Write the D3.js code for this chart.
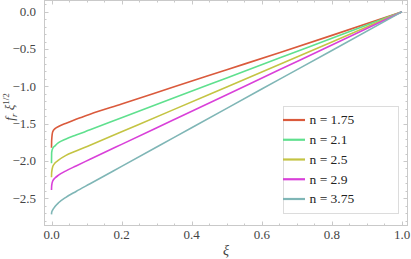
<!DOCTYPE html>
<html><head><meta charset="utf-8">
<script src="https://cdn.jsdelivr.net/npm/d3@7"></script>
<style>body{margin:0;background:#fff}svg{display:block}text{font-family:"Liberation Serif","Times New Roman",Times,serif}</style>
</head><body>
<svg id="c" width="411" height="259"></svg>
<script>
const xi = [0, 0.0005, 0.0035, 0.01, 0.02, 0.04, 0.07, 0.11, 0.2, 0.35, 0.5, 0.65, 0.8, 1.0];
const seriesNames = ["n = 1.75", "n = 2.1", "n = 2.5", "n = 2.9", "n = 3.75"];
const n175 = [-1.822, -1.72, -1.607, -1.566, -1.537, -1.497, -1.440, -1.372, -1.236, -1.006, -0.777, -0.548, -0.316, 0];
const n21  = [-2.031, -1.885, -1.83, -1.797, -1.755, -1.708, -1.652, -1.582, -1.42, -1.152, -0.886, -0.620, -0.355, 0];
const n25  = [-2.218, -2.15, -2.075, -2.028, -1.988, -1.928, -1.866, -1.788, -1.608, -1.308, -1.007, -0.706, -0.404, 0];
const n29  = [-2.389, -2.33, -2.268, -2.228, -2.19, -2.135, -2.066, -1.977, -1.777, -1.444, -1.111, -0.778, -0.445, 0];
const n375 = [-2.715, -2.688, -2.655, -2.61, -2.56, -2.49, -2.408, -2.305, -2.072, -1.683, -1.294, -0.906, -0.518, 0];
const seriesValues = [n175, n21, n25, n29, n375];
const colors = ["#da5a3c", "#5fe08e", "#c4c443", "#d940d9", "#7fb6b6"];
const xTicks = [0, 0.2, 0.4, 0.6, 0.8, 1.0];
const xTickLabels = ["0.0", "0.2", "0.4", "0.6", "0.8", "1.0"];
const yTicks = [0, -0.5, -1.0, -1.5, -2.0, -2.5];
const yTickLabels = ["0.0", "\u22120.5", "\u22121.0", "\u22121.5", "\u22122.0", "\u22122.5"];

const svg = d3.select("#c");
const L = 44, R = 408, T = 0, B = 226;
const x = d3.scaleLinear().domain([-0.0214, 1.0171]).range([L, R]);
const y = d3.scaleLinear().domain([-2.871, 0.158]).range([B, T]);
const frameCol = "#c9c9c9";

const xMinor = d3.range(0, 1.0001, 0.05);
const yMinor = d3.range(-2.8, 0.1001, 0.1);

const g = svg.append("g");
xMinor.forEach(v => {
  const major = xTicks.some(t => Math.abs(t - v) < 1e-6);
  const len = major ? 4.5 : 2.5;
  const px = Math.round(x(v)) + 0.5;
  g.append("line").attr("x1", px).attr("x2", px).attr("y1", B).attr("y2", B - len).attr("stroke", frameCol);
  g.append("line").attr("x1", px).attr("x2", px).attr("y1", T).attr("y2", T + len).attr("stroke", frameCol);
});
yMinor.forEach(v => {
  const major = yTicks.some(t => Math.abs(t - v) < 1e-6);
  const len = major ? 4.5 : 2.5;
  const py = Math.round(y(v)) + 0.5;
  g.append("line").attr("y1", py).attr("y2", py).attr("x1", L).attr("x2", L + len).attr("stroke", frameCol);
  g.append("line").attr("y1", py).attr("y2", py).attr("x1", R).attr("x2", R - len).attr("stroke", frameCol);
});
svg.append("rect").attr("x", L + 0.5).attr("y", T + 0.5).attr("width", R - L - 1).attr("height", B - T - 1)
  .attr("fill", "none").attr("stroke", frameCol);

xTicks.forEach((v, i) => {
  svg.append("text").attr("x", x(v)).attr("y", 238.5).attr("text-anchor", "middle")
    .attr("font-size", 13).attr("fill", "#444").text(xTickLabels[i]);
});
yTicks.forEach((v, i) => {
  svg.append("text").attr("x", 36).attr("y", y(v)).attr("dy", "0.33em").attr("text-anchor", "end")
    .attr("font-size", 13).attr("fill", "#444").text(yTickLabels[i]);
});

svg.append("text").attr("x", (L + R) / 2).attr("y", 255).attr("text-anchor", "middle")
  .attr("font-size", 14).attr("font-style", "italic").attr("fill", "#444").text("ξ");
const yl = svg.append("text").attr("transform", "translate(14,107) rotate(-90)").attr("text-anchor", "middle")
  .attr("font-size", 13).attr("font-style", "italic").attr("fill", "#444");
yl.append("tspan").text("f");
yl.append("tspan").attr("font-size", 9).attr("dy", 3).text("r");
yl.append("tspan").attr("dy", -3).text(" ξ");
yl.append("tspan").attr("font-size", 9).attr("font-style", "normal").attr("dy", -5).text("1/2");

const line = d3.line().x(d => x(d[0])).y(d => y(d[1])).curve(d3.curveMonotoneX);
svg.append("defs").append("clipPath").attr("id", "clip").append("rect")
  .attr("x", L).attr("y", T).attr("width", R - L).attr("height", B - T);
const cg = svg.append("g").attr("clip-path", "url(#clip)");
seriesValues.forEach((vals, i) => {
  cg.append("path").datum(xi.map((v, j) => [v, vals[j]]))
    .attr("d", line).attr("fill", "none").attr("stroke", colors[i]).attr("stroke-width", 1.6);
});

const lg = svg.append("g");
lg.append("rect").attr("x", 283.5).attr("y", 106.5).attr("width", 115).attr("height", 107)
  .attr("fill", "#fff").attr("stroke", "#dcdcdc");
const ly = d3.scalePoint().domain(seriesNames).range([120, 199]);
seriesNames.forEach((nm, i) => {
  lg.append("line").attr("x1", 283).attr("x2", 305).attr("y1", ly(nm)).attr("y2", ly(nm))
    .attr("stroke", colors[i]).attr("stroke-width", 2.2);
  lg.append("text").attr("x", 309.5).attr("y", ly(nm)).attr("dy", "0.33em")
    .attr("font-size", 13.5).attr("fill", "#222").text(nm);
});
</script>
</body></html>
